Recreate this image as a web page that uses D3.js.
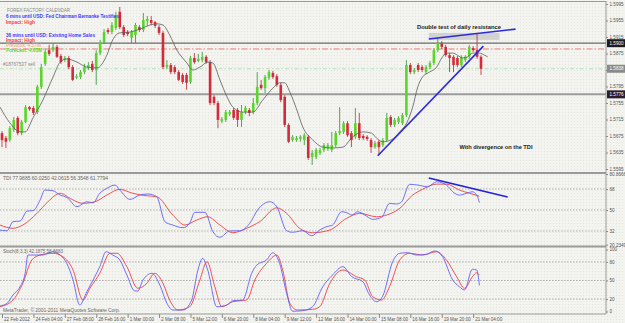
<!DOCTYPE html>
<html>
<head>
<meta charset="utf-8">
<script src="https://cdn.jsdelivr.net/npm/d3@7"></script>
<style>
body { margin: 0; background: #f3f3ef; }
svg { display: block; font-family: "Liberation Sans", Arial, sans-serif; }
</style>
</head>
<body>
<div id="chart"></div>
<script>
// GBPUSD H4 candles: [open, high, low, close]
var ohlc = [
 [1.5682,1.5687,1.5648,1.5665],[1.5670,1.5675,1.5646,1.5661],[1.5665,1.5699,1.5661,1.5694],[1.5690,1.5721,1.5685,1.5714],
 [1.5719,1.5723,1.5677,1.5682],[1.5682,1.5714,1.5677,1.5709],[1.5709,1.5750,1.5706,1.5745],[1.5745,1.5748,1.5736,1.5740],
 [1.5743,1.5748,1.5726,1.5731],[1.5733,1.5799,1.5728,1.5794],[1.5794,1.5850,1.5789,1.5842],[1.5850,1.5888,1.5845,1.5879],
 [1.5883,1.5896,1.5869,1.5874],[1.5883,1.5900,1.5879,1.5891],[1.5891,1.5896,1.5864,1.5867],[1.5869,1.5874,1.5850,1.5854],
 [1.5859,1.5869,1.5854,1.5864],[1.5864,1.5869,1.5837,1.5842],[1.5842,1.5847,1.5808,1.5811],[1.5816,1.5825,1.5813,1.5820],
 [1.5818,1.5835,1.5813,1.5830],[1.5830,1.5850,1.5825,1.5842],[1.5840,1.5854,1.5835,1.5847],[1.5850,1.5857,1.5830,1.5835],
 [1.5835,1.5883,1.5799,1.5876],[1.5876,1.5908,1.5871,1.5903],[1.5903,1.5934,1.5898,1.5927],[1.5932,1.5937,1.5922,1.5927],
 [1.5927,1.5951,1.5922,1.5944],[1.5937,1.5976,1.5932,1.5968],[1.5976,1.5988,1.5934,1.5939],[1.5939,1.5944,1.5915,1.5920],
 [1.5927,1.5932,1.5917,1.5922],[1.5913,1.5932,1.5900,1.5927],[1.5920,1.5949,1.5900,1.5944],[1.5939,1.5944,1.5927,1.5932],
 [1.5932,1.5973,1.5927,1.5956],[1.5954,1.5966,1.5942,1.5959],[1.5956,1.5966,1.5944,1.5949],[1.5951,1.5954,1.5937,1.5942],
 [1.5939,1.5944,1.5920,1.5925],[1.5925,1.5930,1.5837,1.5842],[1.5842,1.5859,1.5837,1.5847],[1.5847,1.5852,1.5825,1.5830],
 [1.5842,1.5847,1.5825,1.5830],[1.5830,1.5835,1.5808,1.5811],[1.5823,1.5828,1.5801,1.5806],[1.5823,1.5828,1.5787,1.5804],
 [1.5806,1.5869,1.5801,1.5864],[1.5864,1.5876,1.5850,1.5854],[1.5857,1.5874,1.5854,1.5862],[1.5859,1.5879,1.5854,1.5867],
 [1.5867,1.5871,1.5850,1.5854],[1.5854,1.5859,1.5750,1.5755],[1.5770,1.5774,1.5750,1.5755],[1.5755,1.5760,1.5694,1.5714],
 [1.5711,1.5721,1.5706,1.5716],[1.5714,1.5738,1.5709,1.5733],[1.5728,1.5738,1.5723,1.5733],[1.5738,1.5743,1.5714,1.5719],
 [1.5738,1.5743,1.5697,1.5714],[1.5714,1.5750,1.5697,1.5733],[1.5733,1.5748,1.5728,1.5743],[1.5738,1.5743,1.5723,1.5731],
 [1.5733,1.5767,1.5728,1.5755],[1.5755,1.5830,1.5750,1.5794],[1.5799,1.5811,1.5787,1.5791],[1.5791,1.5823,1.5779,1.5818],
 [1.5816,1.5835,1.5811,1.5830],[1.5828,1.5833,1.5813,1.5818],[1.5820,1.5825,1.5794,1.5799],[1.5799,1.5804,1.5757,1.5762],
 [1.5770,1.5774,1.5697,1.5702],[1.5702,1.5706,1.5658,1.5661],[1.5665,1.5677,1.5661,1.5673],[1.5665,1.5675,1.5661,1.5670],
 [1.5668,1.5677,1.5661,1.5673],[1.5665,1.5682,1.5653,1.5677],[1.5673,1.5677,1.5617,1.5622],[1.5624,1.5641,1.5605,1.5634],
 [1.5624,1.5646,1.5619,1.5641],[1.5634,1.5646,1.5629,1.5641],[1.5641,1.5658,1.5636,1.5653],[1.5644,1.5658,1.5639,1.5653],
 [1.5641,1.5685,1.5636,1.5653],[1.5653,1.5687,1.5648,1.5682],[1.5682,1.5745,1.5677,1.5687],[1.5685,1.5711,1.5680,1.5706],
 [1.5706,1.5711,1.5673,1.5677],[1.5682,1.5687,1.5648,1.5665],[1.5673,1.5743,1.5668,1.5706],[1.5706,1.5731,1.5665,1.5670],
 [1.5675,1.5680,1.5665,1.5670],[1.5673,1.5677,1.5663,1.5668],[1.5665,1.5670,1.5634,1.5648],[1.5648,1.5663,1.5644,1.5658],
 [1.5661,1.5665,1.5629,1.5648],[1.5653,1.5670,1.5648,1.5665],[1.5665,1.5731,1.5661,1.5719],[1.5721,1.5726,1.5697,1.5702],
 [1.5702,1.5719,1.5697,1.5714],[1.5709,1.5723,1.5704,1.5719],[1.5706,1.5731,1.5702,1.5726],[1.5726,1.5859,1.5721,1.5847],
 [1.5847,1.5852,1.5825,1.5830],[1.5830,1.5840,1.5825,1.5835],[1.5847,1.5852,1.5830,1.5835],[1.5842,1.5847,1.5830,1.5835],
 [1.5830,1.5847,1.5825,1.5842],[1.5842,1.5857,1.5837,1.5852],[1.5852,1.5888,1.5847,1.5883],[1.5883,1.5913,1.5879,1.5900],
 [1.5900,1.5905,1.5886,1.5891],[1.5891,1.5896,1.5867,1.5871],[1.5871,1.5876,1.5830,1.5864],[1.5867,1.5871,1.5830,1.5847],
 [1.5864,1.5869,1.5842,1.5847],[1.5847,1.5871,1.5842,1.5867],[1.5859,1.5871,1.5854,1.5867],[1.5867,1.5896,1.5862,1.5891],
 [1.5888,1.5893,1.5879,1.5883],[1.5883,1.5925,1.5862,1.5867],[1.5867,1.5871,1.5823,1.5838]
];

// moving average on the price panel, [bar, price]
var maLine = [[-0.5,1.5745],[2.0,1.5707],[4.6,1.5685],[5.9,1.5685],[7.9,1.5719],[10.4,1.5762],[13.0,1.5818],[14.8,1.5854],
 [16.5,1.5862],[19.1,1.5854],[21.6,1.5842],[24.2,1.5840],[26.7,1.5871],[28.2,1.5908],[30.0,1.5925],[32.6,1.5927],
 [35.1,1.5934],[37.7,1.5944],[39.4,1.5947],[41.0,1.5944],[42.7,1.5920],[44.5,1.5884],[47.1,1.5852],[48.6,1.5835],
 [50.4,1.5842],[52.4,1.5854],[53.7,1.5852],[55.5,1.5811],[57.3,1.5770],[58.8,1.5745],[61.3,1.5733],[63.9,1.5733],
 [66.4,1.5762],[69.0,1.5791],[70.7,1.5804],[72.0,1.5804],[73.3,1.5782],[75.1,1.5738],[76.6,1.5697],[79.1,1.5666],
 [81.7,1.5648],[84.2,1.5646],[86.8,1.5648],[89.3,1.5673],[91.9,1.5685],[94.1,1.5682],[95.4,1.5670],[96.9,1.5661],
 [99.2,1.5666],[101.3,1.5685],[103.1,1.5707],[104.6,1.5745],[105.9,1.5794],[107.1,1.5818],[108.9,1.5830],[110.7,1.5842],
 [112.0,1.5864],[113.2,1.5876],[114.8,1.5876],[116.0,1.5871],[117.3,1.5864],[118.6,1.5867],[119.8,1.5876],[121.6,1.5876],
 [122.9,1.5871],[123.7,1.5867]];

// TDI price line (blue) and trade signal (red), [bar, value]
var tdiPrice = [[-0.5,32.8],[1.3,32.2],[2.8,40.0],[4.6,40.5],[6.4,49.1],[7.9,49.4],[9.7,58.5],[10.9,67.1],[13.0,66.5],
 [14.8,62.8],[16.5,60.8],[19.1,52.8],[21.6,57.1],[23.2,56.2],[24.9,64.3],[26.7,68.6],[28.8,71.4],[30.0,67.1],[32.6,59.1],
 [35.1,62.8],[37.2,63.7],[39.4,61.4],[41.5,39.9],[43.5,37.1],[46.1,34.8],[47.8,38.6],[49.1,48.0],[51.7,48.0],[53.7,31.4],
 [55.5,26.6],[58.0,32.0],[60.6,32.2],[63.1,38.6],[65.1,50.0],[68.2,57.1],[70.0,52.8],[72.5,32.2],[74.0,30.9],[76.6,32.2],
 [78.9,27.9],[80.9,32.8],[82.7,35.7],[84.2,37.1],[86.5,48.5],[87.8,47.7],[89.1,45.7],[90.6,48.5],[92.4,45.7],[94.4,42.0],
 [96.7,43.7],[98.7,55.7],[100.5,55.1],[101.8,57.1],[103.8,72.0],[105.9,71.4],[108.4,69.9],[110.7,74.2],[113.2,71.4],
 [114.8,65.6],[116.5,62.8],[118.3,64.3],[119.8,65.6],[120.9,62.8],[121.6,56.4]];
var tdiSignal = [[-0.5,37.1],[2.8,34.3],[5.3,37.1],[8.9,47.1],[11.7,57.1],[14.8,64.3],[17.8,59.1],[20.6,55.7],[23.7,57.1],
 [26.7,62.8],[30.0,67.7],[33.3,64.3],[36.9,62.2],[39.4,61.4],[43.5,45.7],[46.6,37.1],[49.6,41.4],[52.4,44.2],[55.5,37.1],
 [58.8,30.5],[62.3,34.3],[65.6,39.9],[70.0,51.9],[72.5,47.1],[75.8,34.3],[79.1,30.5],[83.5,32.8],[87.8,42.9],[91.1,47.1],
 [95.4,44.2],[98.0,45.7],[101.3,51.4],[104.6,62.8],[107.1,67.7],[110.7,72.2],[113.2,72.2],[116.5,67.1],[119.1,64.3],[121.6,61.8]];
var tdiLevels = [68, 50, 32];
var tdiHeader = "TDI 77.9885 60.0250 42.0615 56.3548 61.7794";

// Stochastic main (blue) and signal (red), [bar, value]
var stochMain = [[-0.5,8.9],[1.3,13.2],[2.8,26.6],[4.6,40.0],[5.9,61.6],[6.6,91.1],[7.9,91.1],[10.4,91.1],[13.0,96.5],
 [14.8,91.1],[16.5,77.7],[18.1,50.8],[19.8,10.5],[21.6,31.9],[23.2,50.8],[24.9,72.3],[26.5,96.5],[28.2,91.1],[30.0,83.1],
 [31.8,58.9],[33.8,33.1],[34.6,33.1],[35.9,50.8],[38.2,61.6],[40.2,42.7],[42.0,13.2],[43.5,2.4],[46.1,2.4],[48.3,18.5],
 [49.9,66.9],[51.1,85.8],[52.4,66.9],[54.7,7.7],[57.3,10.5],[58.8,17.4],[61.3,18.5],[63.6,61.6],[64.9,75.0],[67.4,83.1],
 [69.0,94.8],[70.7,77.7],[72.5,29.4],[74.0,0.5],[76.6,1.3],[79.1,7.7],[81.7,40.0],[84.2,58.9],[86.8,72.3],[89.1,56.1],
 [91.9,48.1],[93.6,26.6],[95.4,15.8],[96.9,23.9],[99.5,80.3],[101.3,93.9],[103.3,94.8],[105.6,91.1],[108.1,92.3],
 [110.2,97.6],[112.2,88.4],[114.8,50.8],[116.5,40.0],[117.8,34.7],[119.8,68.1],[120.9,66.9],[121.6,42.2]];
var stochSignal = [[-0.5,7.7],[2.8,18.5],[5.3,45.5],[7.6,83.1],[9.7,91.1],[13.0,93.9],[15.5,88.4],[18.1,66.9],[20.6,18.5],
 [22.4,37.4],[24.9,61.6],[27.5,93.9],[29.3,93.9],[31.8,72.3],[34.6,37.4],[36.9,45.5],[38.9,61.6],[41.0,45.5],[42.7,18.5],
 [44.8,2.4],[47.8,7.7],[50.4,50.8],[52.2,80.3],[54.2,40.0],[56.0,7.7],[58.8,15.8],[62.3,18.5],[64.4,50.8],[67.4,77.7],
 [70.0,91.1],[71.5,66.9],[73.3,13.2],[75.3,2.4],[79.1,3.5],[80.9,7.7],[83.5,45.5],[86.8,66.9],[90.3,56.1],[92.4,50.8],
 [94.4,23.9],[96.7,18.5],[98.7,40.0],[101.3,83.1],[103.8,93.9],[107.1,91.1],[110.7,96.5],[113.2,83.1],[115.8,56.1],
 [117.8,37.4],[119.8,56.1],[120.9,62.6],[121.6,58.7]];
var stochLevels = [80, 50, 20];
var stochHeader = "Stoch(8,3,3) 42.1875 58.6683";

// axis labels
var priceTicks = [1.5995, 1.5955, 1.5915, 1.5875, 1.5835, 1.5795, 1.5755, 1.5715, 1.5675, 1.5635, 1.5595];
var tdiTicks = [80.8666, 68, 50, 32, 20.2349];
var stochTicks = [100, 80, 50, 20, 0];
var timeBars = [0, 8, 16, 24, 32, 40, 48, 56, 64, 72, 80, 88, 96, 104, 112, 120];
var timeLabels = ["22 Feb 2012", "24 Feb 04:00", "27 Feb 08:00", "28 Feb 16:00", "1 Mar 00:00", "2 Mar 08:00",
 "5 Mar 12:00", "6 Mar 20:00", "8 Mar 04:00", "9 Mar 12:00", "12 Mar 16:00", "14 Mar 00:00", "15 Mar 08:00",
 "16 Mar 16:00", "19 Mar 20:00", "21 Mar 04:00"];

// horizontal price levels: resistance, alert, bid, support
var levelPrices = [1.5900, 1.5886, 1.5838, 1.5776];

// hand drawn annotations, [bar, price] / [bar, tdi]
var trendUp = [[95.7, 1.5627], [122.6, 1.5893]];
var resistLine = [[108.7, 1.5910], [130.8, 1.5934]];
var resistZone = [[108.7, 1.5925], [126.7, 1.5908]];
var tdiDivergence = [[108.7, 77.4], [128.8, 61.1]];

// 1. svg + scales
var W = 625, H = 323, axisX = 606;

var svg = d3.select("#chart").append("svg")
    .attr("width", W)
    .attr("height", H);

var xScale = d3.scaleLinear().domain([0, 122]).range([2, 481]);
var yPrice = d3.scaleLinear().domain([1.5595, 1.5995]).range([169, 4]);
var yTdi = d3.scaleLinear().domain([20.2349, 80.8666]).range([244.7, 174]);
var yStoch = d3.scaleLinear().domain([0, 100]).range([311.5, 249.5]);

// background with the faint dotted grain
var defs = svg.append("defs");
var pat = defs.append("pattern").attr("id", "grain")
    .attr("width", 3).attr("height", 3).attr("patternUnits", "userSpaceOnUse");
pat.append("rect").attr("width", 3).attr("height", 3).attr("fill", "#f3f3ef");
pat.append("rect").attr("x", 1).attr("y", 1).attr("width", 1).attr("height", 1).attr("fill", "#e6e6e1");

svg.append("rect").attr("width", W).attr("height", H).attr("fill", "url(#grain)");

function clip(id, y0, y1) {
  defs.append("clipPath").attr("id", id)
    .append("rect").attr("x", 0).attr("y", y0).attr("width", axisX).attr("height", y1 - y0);
}
clip("cMain", 2, 172);
clip("cTdi", 174, 246);
clip("cStoch", 247, 314);

// 2. panel frames
var frame = svg.append("g").attr("stroke", "#9a9a9a").attr("fill", "none");
frame.append("line").attr("x1", 0).attr("x2", axisX).attr("y1", 1.5).attr("y2", 1.5).attr("stroke-width", 1);
frame.append("line").attr("x1", 0).attr("x2", axisX).attr("y1", 173).attr("y2", 173).attr("stroke-width", 2);
frame.append("line").attr("x1", 0).attr("x2", axisX).attr("y1", 246.5).attr("y2", 246.5).attr("stroke-width", 2);
frame.append("line").attr("x1", 0).attr("x2", axisX).attr("y1", 314).attr("y2", 314).attr("stroke-width", 1);
frame.append("line").attr("x1", axisX).attr("x2", axisX).attr("y1", 1).attr("y2", 314).attr("stroke-width", 1);

// 3. main price panel
var main = svg.append("g").attr("clip-path", "url(#cMain)");

var levelStyles = [
  {stroke: "#6a6a6a", width: 1.3, dash: null},
  {stroke: "#e86060", width: 0.8, dash: "6,2,1.5,2"},
  {stroke: "#b4e0b4", width: 0.9, dash: "4,2,1.5,2"},
  {stroke: "#9c9c9c", width: 2, dash: null}
];
main.selectAll(".level")
    .data(levelPrices)
    .enter().append("line")
    .attr("class", "level")
    .attr("x1", 0).attr("x2", axisX)
    .attr("y1", function(d) { return yPrice(d); })
    .attr("y2", function(d) { return yPrice(d); })
    .attr("stroke", function(d, i) { return levelStyles[i].stroke; })
    .attr("stroke-width", function(d, i) { return levelStyles[i].width; })
    .attr("stroke-dasharray", function(d, i) { return levelStyles[i].dash; });

// resistance zone box
main.append("rect")
    .attr("x", xScale(resistZone[0][0]))
    .attr("y", yPrice(resistZone[0][1]))
    .attr("width", xScale(resistZone[1][0]) - xScale(resistZone[0][0]))
    .attr("height", yPrice(resistZone[1][1]) - yPrice(resistZone[0][1]))
    .attr("fill", "#d2d2d2");

// candles
var bull = "#5ad62a", bullWick = "#3f9f3f", bear = "#d42a3a", bearWick = "#c23a46";
var candle = main.selectAll(".candle")
    .data(ohlc)
    .enter().append("g")
    .attr("class", "candle");

candle.append("line")
    .attr("x1", function(d, i) { return xScale(i); })
    .attr("x2", function(d, i) { return xScale(i); })
    .attr("y1", function(d) { return yPrice(d[1]); })
    .attr("y2", function(d) { return yPrice(d[2]); })
    .attr("stroke", function(d) { return d[3] >= d[0] ? bullWick : bearWick; })
    .attr("stroke-width", 0.9);

candle.append("rect")
    .attr("x", function(d, i) { return xScale(i) - 1.3; })
    .attr("width", 2.6)
    .attr("y", function(d) { return yPrice(Math.max(d[0], d[3])); })
    .attr("height", function(d) { return Math.max(0.9, Math.abs(yPrice(d[0]) - yPrice(d[3]))); })
    .attr("fill", function(d) { return d[3] >= d[0] ? bull : bear; });

// moving average
var line = d3.line()
    .x(function(d) { return xScale(d[0]); })
    .y(function(d) { return yPrice(d[1]); })
    .curve(d3.curveMonotoneX);

main.append("path")
    .datum(maLine)
    .attr("d", line)
    .attr("fill", "none")
    .attr("stroke", "#5a5a5a")
    .attr("stroke-width", 0.8);

// blue trend lines
[trendUp, resistLine].forEach(function(seg) {
  main.append("line")
    .attr("x1", xScale(seg[0][0])).attr("y1", yPrice(seg[0][1]))
    .attr("x2", xScale(seg[1][0])).attr("y2", yPrice(seg[1][1]))
    .attr("stroke", "#2b2bdc")
    .attr("stroke-width", 1.6);
});

// calendar text block
var info = [
  ["FOREX FACTORY CALENDAR", "#8a8a8a", "normal", 12, 7, 63],
  ["6 mins until USD: Fed Chairman Bernanke Testifies", "#3a3aff", "bold", 17.5, 6, 113],
  ["Impact: High", "#ff3a3a", "bold", 23.5, 6, 29],
  ["36 mins until USD: Existing Home Sales", "#3a3aff", "bold", 36.5, 6, 89],
  ["Impact: High", "#ff3a3a", "bold", 42, 6, 29],
  ["Previous: 4.57M", "#e8a070", "normal", 46.5, 6, 35],
  ["Forecast: 4.61M", "#44dd44", "bold", 52, 6, 36],
  ["#18767537 sell", "#8a8a8a", "normal", 66, 3, 32]
];
svg.selectAll(".info")
    .data(info)
    .enter().append("text")
    .attr("class", "info")
    .attr("x", function(d) { return d[4]; })
    .attr("y", function(d) { return d[3]; })
    .attr("font-size", 5.2)
    .attr("font-weight", function(d) { return d[2]; })
    .attr("fill", function(d) { return d[1]; })
    .attr("textLength", function(d) { return d[5]; })
    .attr("lengthAdjust", "spacingAndGlyphs")
    .text(function(d) { return d[0]; });

svg.append("text")
    .attr("x", 459).attr("y", 28.5)
    .attr("text-anchor", "middle")
    .attr("font-size", 5.4).attr("font-weight", "bold").attr("fill", "#222")
    .attr("textLength", 84).attr("lengthAdjust", "spacingAndGlyphs")
    .text("Double test of daily resistance");

svg.append("text")
    .attr("x", 496).attr("y", 149)
    .attr("text-anchor", "middle")
    .attr("font-size", 5.4).attr("font-weight", "bold").attr("fill", "#222")
    .attr("textLength", 73).attr("lengthAdjust", "spacingAndGlyphs")
    .text("With divergence on the TDI");

// 4. TDI panel
var tdi = svg.append("g").attr("clip-path", "url(#cTdi)");

tdi.selectAll(".lvl")
    .data(tdiLevels)
    .enter().append("line")
    .attr("x1", 0).attr("x2", axisX)
    .attr("y1", function(d) { return yTdi(d); })
    .attr("y2", function(d) { return yTdi(d); })
    .attr("stroke", "#8f8f8f")
    .attr("stroke-width", 0.7)
    .attr("stroke-dasharray", "1.5,1.5");

var tdiLine = d3.line()
    .x(function(d) { return xScale(d[0]); })
    .y(function(d) { return yTdi(d[1]); })
    .curve(d3.curveMonotoneX);

tdi.append("path").datum(tdiSignal).attr("d", tdiLine)
    .attr("fill", "none").attr("stroke", "#ee4040").attr("stroke-width", 0.9);
tdi.append("path").datum(tdiPrice).attr("d", tdiLine)
    .attr("fill", "none").attr("stroke", "#6060ff").attr("stroke-width", 0.9);

tdi.append("line")
    .attr("x1", xScale(tdiDivergence[0][0])).attr("y1", yTdi(tdiDivergence[0][1]))
    .attr("x2", xScale(tdiDivergence[1][0])).attr("y2", yTdi(tdiDivergence[1][1]))
    .attr("stroke", "#2020dc").attr("stroke-width", 1.6);

svg.append("text")
    .attr("x", 3).attr("y", 179.5)
    .attr("font-size", 4.6).attr("fill", "#666")
    .attr("textLength", 105).attr("lengthAdjust", "spacingAndGlyphs")
    .text(tdiHeader);

// 5. Stochastic panel
var sto = svg.append("g").attr("clip-path", "url(#cStoch)");

sto.selectAll(".lvl")
    .data(stochLevels)
    .enter().append("line")
    .attr("x1", 0).attr("x2", axisX)
    .attr("y1", function(d) { return yStoch(d); })
    .attr("y2", function(d) { return yStoch(d); })
    .attr("stroke", "#8f8f8f")
    .attr("stroke-width", 0.7)
    .attr("stroke-dasharray", "1.5,1.5");

var stoLine = d3.line()
    .x(function(d) { return xScale(d[0]); })
    .y(function(d) { return yStoch(d[1]); })
    .curve(d3.curveMonotoneX);

sto.append("path").datum(stochSignal).attr("d", stoLine)
    .attr("fill", "none").attr("stroke", "#ee4040").attr("stroke-width", 0.9);
sto.append("path").datum(stochMain).attr("d", stoLine)
    .attr("fill", "none").attr("stroke", "#6060ff").attr("stroke-width", 0.9);

svg.append("text")
    .attr("x", 3).attr("y", 253)
    .attr("font-size", 4.6).attr("fill", "#666")
    .attr("textLength", 60).attr("lengthAdjust", "spacingAndGlyphs")
    .text(stochHeader);

svg.append("text")
    .attr("x", 3).attr("y", 311.5)
    .attr("font-size", 4.6).attr("fill", "#666")
    .attr("textLength", 117).attr("lengthAdjust", "spacingAndGlyphs")
    .text("MetaTrader, \u00a9 2001-2011 MetaQuotes Software Corp.");

// 6. right axes
function rightAxis(scale, ticks, fmt) {
  var g = svg.append("g")
      .attr("transform", "translate(" + axisX + ",0)")
      .call(d3.axisRight(scale).tickValues(ticks).tickSize(2).tickFormat(fmt));
  g.select(".domain").remove();
  g.selectAll("line").attr("stroke", "#888");
  g.selectAll("text").attr("font-size", 4.6).attr("fill", "#555").attr("x", 3.5)
      .attr("font-family", "Liberation Sans, Arial, sans-serif");
  return g;
}
rightAxis(yPrice, priceTicks, d3.format(".4f"));
rightAxis(yTdi, tdiTicks, function(d) { return d % 1 ? d3.format(".4f")(d) : d; });
rightAxis(yStoch, stochTicks, function(d) { return d; });

// price tags on the axis for the three key levels
var tags = [[levelPrices[0], "#1e1a1e"], [levelPrices[2], "#8a8a8a"], [levelPrices[3], "#2a1e2e"]];
var tag = svg.selectAll(".tag")
    .data(tags)
    .enter().append("g")
    .attr("class", "tag")
    .attr("transform", function(d) { return "translate(" + (axisX + 1) + "," + yPrice(d[0]) + ")"; });
tag.append("rect")
    .attr("x", 0).attr("y", -4).attr("width", 18).attr("height", 8)
    .attr("fill", function(d) { return d[1]; });
tag.append("text")
    .attr("x", 2.5).attr("y", 1.7)
    .attr("font-size", 4.6).attr("fill", "#fff")
    .text(function(d) { return d3.format(".4f")(d[0]); });

// 7. time axis
var tx = svg.append("g")
    .attr("transform", "translate(0,314)")
    .call(d3.axisBottom(xScale).tickValues(timeBars).tickSize(4)
      .tickFormat(function(d, i) { return timeLabels[i]; }));
tx.select(".domain").remove();
tx.selectAll("line").attr("stroke", "#888");
tx.selectAll("text")
    .attr("text-anchor", "start")
    .attr("x", 1.5).attr("y", 3.5)
    .attr("font-size", 4.6).attr("fill", "#555")
    .attr("font-family", "Liberation Sans, Arial, sans-serif");
</script>
</body>
</html>
